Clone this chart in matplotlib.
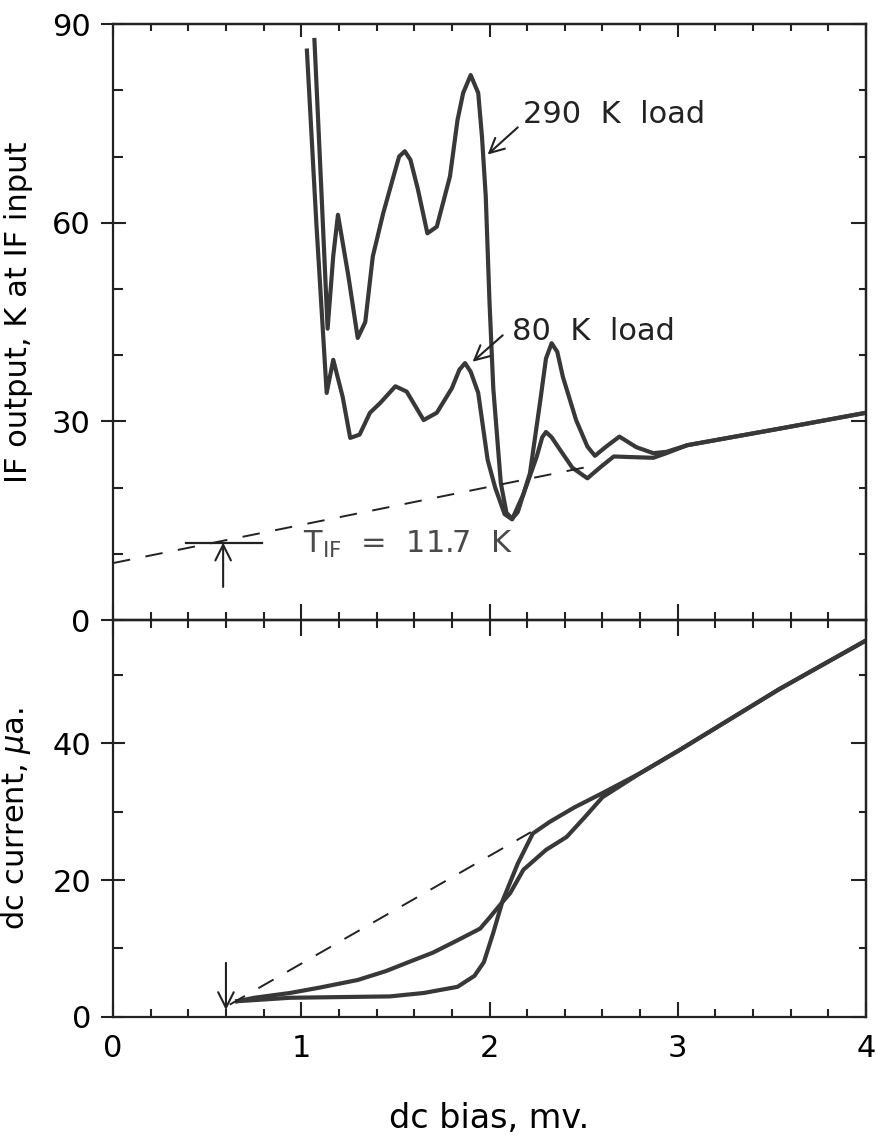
import numpy as np
import matplotlib
matplotlib.use('Agg')
from matplotlib import pyplot as plt
from matplotlib.ticker import MultipleLocator, NullFormatter

plt.rcParams['font.family'] = ['DejaVu Sans']

# upper panel: IF output (K) vs dc bias (mV)
bias_290 = [1.07, 1.105, 1.14, 1.17, 1.195, 1.25, 1.30, 1.34, 1.38, 1.435, 1.49,
            1.52, 1.55, 1.58, 1.62, 1.67, 1.72, 1.79, 1.83, 1.86, 1.90, 1.94,
            1.96, 1.98, 2.00, 2.02, 2.06, 2.09, 2.12, 2.15, 2.18, 2.215, 2.27,
            2.30, 2.33, 2.36, 2.39, 2.46, 2.52, 2.56, 2.62, 2.69, 2.78, 2.87,
            2.94, 3.05, 3.54, 4.00]
if_290 = [87.6, 66, 44, 55, 61.2, 52, 42.6, 45, 54.9, 61.4, 67,
          70, 70.8, 69.5, 65, 58.4, 59.4, 67, 75.5, 79.6, 82.3, 79.6,
          73, 64, 48, 35, 20.7, 16.2, 15.3, 16.3, 19, 22.2, 33.2,
          39.5, 41.8, 40.5, 36.7, 30.2, 26.2, 24.8, 26.2, 27.7, 26.1, 25.2,
          25.4, 26.4, 28.9, 31.3]

bias_80 = [1.03, 1.08, 1.135, 1.17, 1.22, 1.26, 1.31, 1.365, 1.42, 1.50, 1.56,
           1.65, 1.72, 1.80, 1.84, 1.87, 1.90, 1.94, 1.99, 2.03, 2.08, 2.12,
           2.18, 2.25, 2.28, 2.30, 2.33, 2.375, 2.44, 2.52, 2.59, 2.66, 2.76,
           2.87, 2.94, 3.05, 3.54, 4.00]
if_80 = [86, 60, 34.3, 39.3, 33.7, 27.5, 28, 31.3, 32.8, 35.3, 34.5,
         30.2, 31.3, 35, 37.8, 38.8, 37.5, 34.3, 24.2, 20, 16, 15.2,
         19, 24.6, 27.6, 28.4, 27.6, 25.7, 23, 21.4, 23.1, 24.7, 24.6,
         24.5, 25.2, 26.4, 28.9, 31.3]

tif_bias = [0.0, 2.55]
tif_line = [8.6, 23.3]
tif_value = 11.7
tif_marker_x = 0.585

# lower panel: dc current (uA) vs dc bias (mV)
bias_pumped = [0.66, 0.75, 0.94, 1.10, 1.30, 1.45, 1.56, 1.70, 1.83, 1.95, 2.00,
               2.06, 2.11, 2.18, 2.30, 2.41, 2.50, 2.60, 2.80, 3.01, 3.54, 4.00]
cur_pumped = [2.3, 2.8, 3.5, 4.3, 5.4, 6.7, 7.9, 9.4, 11.2, 12.9, 14.5,
              16.5, 18.1, 21.5, 24.4, 26.3, 29.0, 32.1, 35.6, 39.0, 47.9, 55.0]

bias_unpumped = [0.66, 0.94, 1.20, 1.47, 1.65, 1.83, 1.92, 1.97, 2.02, 2.07, 2.15,
                 2.23, 2.32, 2.45, 2.60, 2.80, 3.01, 3.54, 4.00]
cur_unpumped = [2.3, 2.8, 2.9, 3.0, 3.5, 4.4, 6.0, 8.0, 12.3, 17, 22.4,
                26.8, 28.5, 30.6, 32.7, 35.6, 39.0, 47.9, 55.0]

res_bias = [0.62, 2.22]
res_line = [1.8, 27.0]

curve_color = '#383838'
axis_color = '#222222'
fs = 22

fig = plt.figure(figsize=(8.76, 11.36), dpi=100)
ax_bot = fig.add_axes([0.129, 0.1048, 0.8596, 0.3495])
ax_top = fig.add_axes([0.129, 0.4542, 0.8596, 0.5246])
ax_top.set_zorder(3)
ax_top.patch.set_visible(False)


def style_axes(ax, bottom_dir, bottom_len, left_len, ymajor):
    for sp in ax.spines.values():
        sp.set_linewidth(1.6)
        sp.set_color(axis_color)
    ax.set_xlim(0, 4)
    ax.xaxis.set_major_locator(MultipleLocator(1))
    ax.xaxis.set_minor_locator(MultipleLocator(0.2))
    ax.yaxis.set_major_locator(MultipleLocator(ymajor))
    ax.yaxis.set_minor_locator(MultipleLocator(10))
    ax.tick_params(axis='x', which='major', direction=bottom_dir,
                   length=bottom_len[0], width=1.5, color=axis_color,
                   labelsize=fs, pad=12)
    ax.tick_params(axis='x', which='minor', direction=bottom_dir,
                   length=bottom_len[1], width=1.5, color=axis_color)
    ax.tick_params(axis='y', which='major', direction='inout',
                   length=left_len, width=1.5, color=axis_color,
                   labelsize=fs, pad=7)
    ax.tick_params(axis='y', which='minor', direction='in',
                   length=7, width=1.5, color=axis_color)
    sx = ax.secondary_xaxis('top')
    sx.xaxis.set_major_locator(MultipleLocator(1))
    sx.xaxis.set_minor_locator(MultipleLocator(0.2))
    sx.tick_params(which='major', direction='in', length=9, width=1.5,
                   color=axis_color, labeltop=False)
    sx.tick_params(which='minor', direction='in', length=5, width=1.5,
                   color=axis_color)
    sx.xaxis.set_major_formatter(NullFormatter())
    sx.spines['top'].set_linewidth(1.6)
    sy = ax.secondary_yaxis('right')
    sy.yaxis.set_major_locator(MultipleLocator(ymajor))
    sy.yaxis.set_minor_locator(MultipleLocator(10))
    sy.tick_params(which='major', direction='in', length=11, width=1.5,
                   color=axis_color, labelright=False)
    sy.tick_params(which='minor', direction='in', length=5, width=1.5,
                   color=axis_color)
    sy.yaxis.set_major_formatter(NullFormatter())
    sy.spines['right'].set_linewidth(1.6)
    return sx


# ---- top panel
sx_top = style_axes(ax_top, 'inout', (23, 11.5), 18, 30)
ax_top.set_ylim(0, 90)
ax_top.tick_params(axis='x', labelbottom=False)
ax_top.plot(bias_290, if_290, color=curve_color, lw=3, solid_joinstyle='round')
ax_top.plot(bias_80, if_80, color=curve_color, lw=3, solid_joinstyle='round')
ax_top.plot(tif_bias, tif_line, color=axis_color, lw=1.4, dashes=(9, 8))
ax_top.plot([0.39, 0.79], [tif_value, tif_value], color=axis_color, lw=1.6)
ax_top.annotate('', xy=(tif_marker_x, tif_value), xytext=(tif_marker_x, 5.0),
                arrowprops=dict(arrowstyle='->', color=axis_color, lw=1.5,
                                shrinkA=0, shrinkB=0, mutation_scale=28))
ax_top.text(1.01, 10.1, r'T$_{\mathregular{IF}}$  =  11.7  K', fontsize=fs,
            color='#4a4a4a', va='baseline')
ax_top.text(2.18, 75.1, '290  K  load', fontsize=fs, color=axis_color,
            va='baseline')
ax_top.annotate('', xy=(1.99, 70.3), xytext=(2.15, 74.4),
                arrowprops=dict(arrowstyle='->', color=axis_color, lw=1.5,
                                shrinkA=0, shrinkB=0, mutation_scale=26))
ax_top.text(2.12, 42.3, '80  K  load', fontsize=fs, color=axis_color,
            va='baseline')
ax_top.annotate('', xy=(1.91, 39.0), xytext=(2.07, 43.0),
                arrowprops=dict(arrowstyle='->', color=axis_color, lw=1.5,
                                shrinkA=0, shrinkB=0, mutation_scale=26))
ax_top.set_ylabel('IF output, K at IF input', fontsize=fs)
ax_top.yaxis.set_label_coords(-0.106, 0.517)

# ---- bottom panel
sx_bot = style_axes(ax_bot, 'in', (11, 6), 17, 20)
sx_bot.tick_params(which='both', length=0)
ax_bot.set_ylim(0, 58)
ax_bot.plot(bias_pumped, cur_pumped, color=curve_color, lw=3, solid_joinstyle='round')
ax_bot.plot(bias_unpumped, cur_unpumped, color=curve_color, lw=3, solid_joinstyle='round')
ax_bot.plot(res_bias, res_line, color=axis_color, lw=1.4, dashes=(9, 8))
ax_bot.annotate('', xy=(0.6, 1.0), xytext=(0.6, 7.9),
                arrowprops=dict(arrowstyle='->', color=axis_color, lw=1.5,
                                shrinkA=0, shrinkB=0, mutation_scale=28))
ax_bot.set_ylabel(r'dc current, $\mu$a.', fontsize=fs)
ax_bot.yaxis.set_label_coords(-0.106, 0.5)
ax_bot.set_xlabel('dc bias, mv.', fontsize=fs + 2)
ax_bot.xaxis.set_label_coords(0.5, -0.215)

plt.savefig('out.png', dpi=100)
